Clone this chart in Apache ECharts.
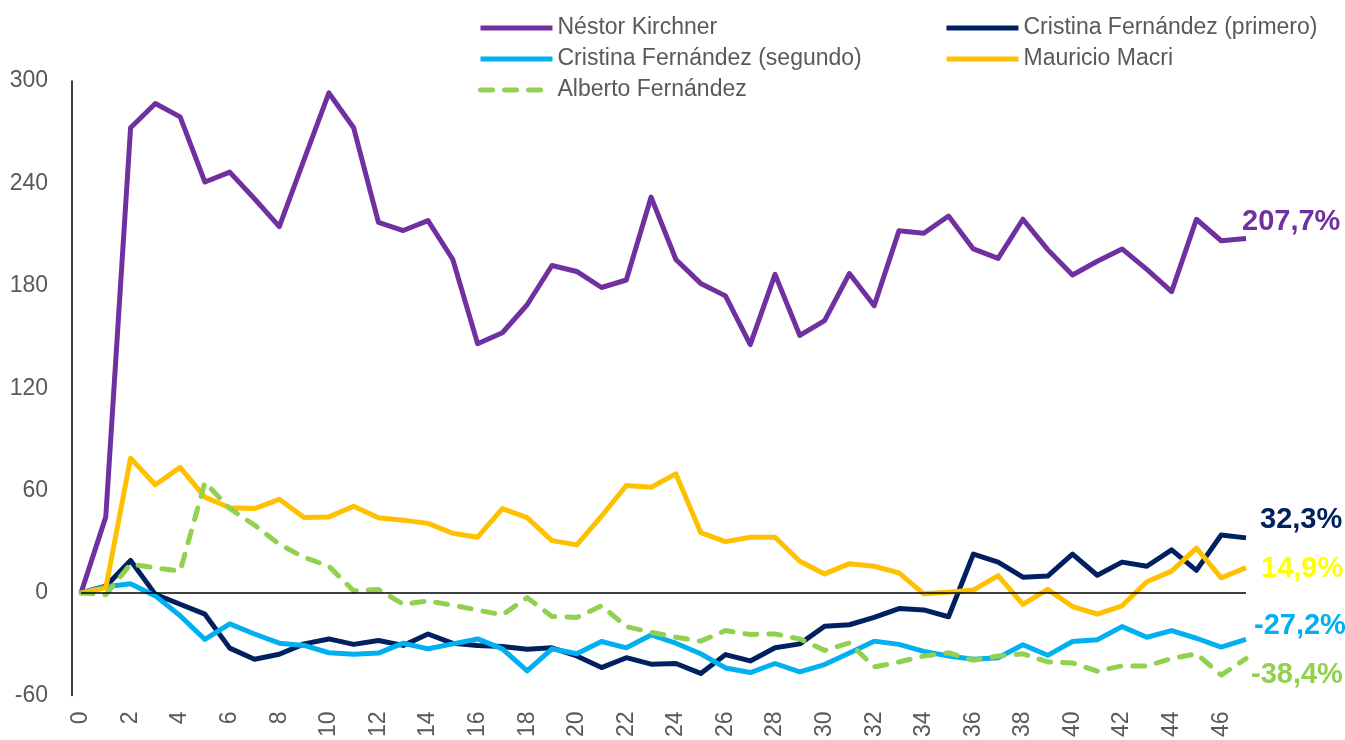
<!DOCTYPE html>
<html>
<head>
<meta charset="utf-8">
<script src="https://cdn.jsdelivr.net/npm/echarts@6/dist/echarts.min.js"></script>
<style>
  html, body { margin: 0; padding: 0; background: #fff; }
  #main { width: 1345px; height: 740px; }
</style>
</head>
<body>
<div id="main"></div>
<script>
// semanas desde el inicio de cada mandato
const weeks = [0, 1, 2, 3, 4, 5, 6, 7, 8, 9, 10, 11, 12, 13, 14, 15, 16, 17, 18, 19, 20, 21, 22, 23,
  24, 25, 26, 27, 28, 29, 30, 31, 32, 33, 34, 35, 36, 37, 38, 39, 40, 41, 42, 43, 44, 45, 46, 47]
const yTicks = { min: -60, max: 300, step: 60 }

const nestor = [0, 44.6, 272.6, 286.8, 279, 240.8, 246.6, 231, 214.7, 254, 293, 272.6, 217.2, 212.4, 218.2,
  195.4, 146.1, 152.5, 168.9, 191.9, 188.4, 179, 183.4, 232, 195.4, 181.4, 174.1, 145.5, 186.7, 150.9, 159.6, 187.2, 168.3,
  212.2, 210.8, 220.9, 201.6, 196.1, 219, 201.2, 186.3, 194.4, 201.6, 189.6, 176.6, 219, 206.4, 207.7]
const cfkPrimero = [0, 4, 19.1, -0.8, -6.6, -12.4, -32.3, -38.8, -35.9, -29.8, -26.9, -30.1, -27.8, -30.7, -24,
  -29.5, -30.7, -31.3, -33, -32.1, -36.9, -43.7, -37.9, -41.7, -41.3, -47.1, -36.1, -39.8, -32.1, -29.8, -19.5, -18.6, -14.3,
  -9.1, -9.9, -13.9, 22.8, 18.1, 9.3, 9.9, 22.8, 10.4, 18.1, 15.7, 25.3, 13.3, 34, 32.3]
const cfkSegundo = [0, 3.7, 5.4, -1.7, -13.3, -27.2, -18.1, -24, -29.4, -30.7, -35, -35.9, -35.2, -29.4, -32.7,
  -29.8, -26.9, -32.7, -45.6, -32.7, -35.6, -28.4, -32.1, -24.6, -29.4, -35.6, -43.9, -46.6, -41.3, -46.2, -41.9, -35.2, -28.2,
  -30.1, -34.2, -36.9, -38.8, -37.9, -30.3, -36.5, -28.4, -27.4, -19.7, -25.9, -22, -26.5, -31.7, -27.2]
const macri = [0, 3, 79, 63.4, 73.6, 56.2, 50, 49.5, 54.9, 44.2, 44.6, 50.8, 44.1, 42.7, 40.8,
  35, 32.7, 49.5, 44.2, 30.7, 28.2, 45, 63, 62, 69.8, 35.4, 30.1, 32.7, 32.7, 18.6, 11.2, 17.2, 15.7,
  11.8, -0.5, 0.5, 1.7, 10.2, -6.6, 2.1, -7.9, -12.4, -7.5, 6.6, 12.8, 26.3, 8.9, 14.9]
const alberto = [0, -1, 17, 14.7, 12.8, 64.9, 49.5, 39.8, 28.6, 20.9, 15.7, 1.2, 2.1, -6.6, -4.6,
  -7.2, -10, -12.8, -2.7, -13.7, -14.3, -7.5, -19.7, -23, -25.9, -28.2, -22, -24.3, -24, -26.9, -33.6, -29.2, -43.3,
  -40.4, -36.9, -35, -39.4, -36.9, -35.6, -40.4, -41, -45.8, -42.7, -42.7, -38.4, -35.6, -48.1, -38.4]

const font = "'Liberation Sans', Arial, sans-serif"
const grey = '#595959'

function pct (v) {
  return v.toFixed(1).replace('.', ',') + '%'
}

function makeLine (name, data, color, labelColor, offset, dashed) {
  return {
    name: name,
    type: 'line',
    data: data,
    symbol: 'none',
    smooth: false,
    lineStyle: {
      color: color,
      width: 5,
      type: dashed ? [12, 12] : 'solid',
      cap: dashed ? 'round' : 'butt',
      join: 'round'
    },
    itemStyle: { color: color },
    endLabel: {
      show: true,
      formatter: p => pct(p.value),
      color: labelColor,
      fontFamily: font,
      fontWeight: 'bold',
      fontSize: 29,
      offset: offset
    }
  }
}

const chart = echarts.init(document.getElementById('main'))
const series = [
  makeLine('Néstor Kirchner', nestor, '#7030A0', '#7030A0', [-12, -17]),
  makeLine('Cristina Fernández (primero)', cfkPrimero, '#002060', '#002060', [6, -18]),
  makeLine('Cristina Fernández (segundo)', cfkSegundo, '#00B0F0', '#00B0F0', [0, -13]),
  makeLine('Mauricio Macri', macri, '#FFC000', '#FFFF00', [7, 1]),
  makeLine('Alberto Fernández', alberto, '#92D050', '#92D050', [-3, 16], true)
]
// linea del cero
series[0].markLine = {
  silent: true,
  symbol: 'none',
  label: { show: false },
  lineStyle: { color: '#000', width: 1.5, type: 'solid' },
  data: [{ yAxis: 0 }]
}

const legendCommon = {
  orient: 'vertical',
  itemWidth: 72,
  itemHeight: 14,
  itemGap: 7,
  itemStyle: { opacity: 0 },
  lineStyle: { width: 5 },
  textStyle: { color: grey, fontFamily: font, fontSize: 23, lineHeight: 24 }
}

chart.setOption({
  animation: false,
  backgroundColor: '#fff',
  legend: [
    Object.assign({}, legendCommon, {
      left: 473,
      top: 11,
      data: ['Néstor Kirchner', 'Cristina Fernández (segundo)', 'Alberto Fernández']
    }),
    Object.assign({}, legendCommon, {
      left: 939,
      top: 11,
      data: ['Cristina Fernández (primero)', 'Mauricio Macri']
    })
  ],
  grid: {
    left: 81,
    right: 99,
    top: 81,
    bottom: 39,
    containLabel: false
  },
  xAxis: {
    type: 'category',
    data: weeks,
    boundaryGap: false,
    axisLine: { show: false, onZero: false },
    axisTick: { show: false },
    splitLine: { show: false },
    axisLabel: {
      interval: 1,
      rotate: 90,
      margin: 16,
      color: grey,
      fontFamily: font,
      fontSize: 23
    }
  },
  yAxis: {
    type: 'value',
    min: yTicks.min,
    max: yTicks.max,
    interval: yTicks.step,
    offset: 9,
    axisLine: { show: true, lineStyle: { color: '#000', width: 1.5 } },
    axisTick: { show: false },
    splitLine: { show: false },
    axisLabel: {
      margin: 24,
      color: grey,
      fontFamily: font,
      fontSize: 23
    }
  },
  series: series
})
</script>
</body>
</html>
